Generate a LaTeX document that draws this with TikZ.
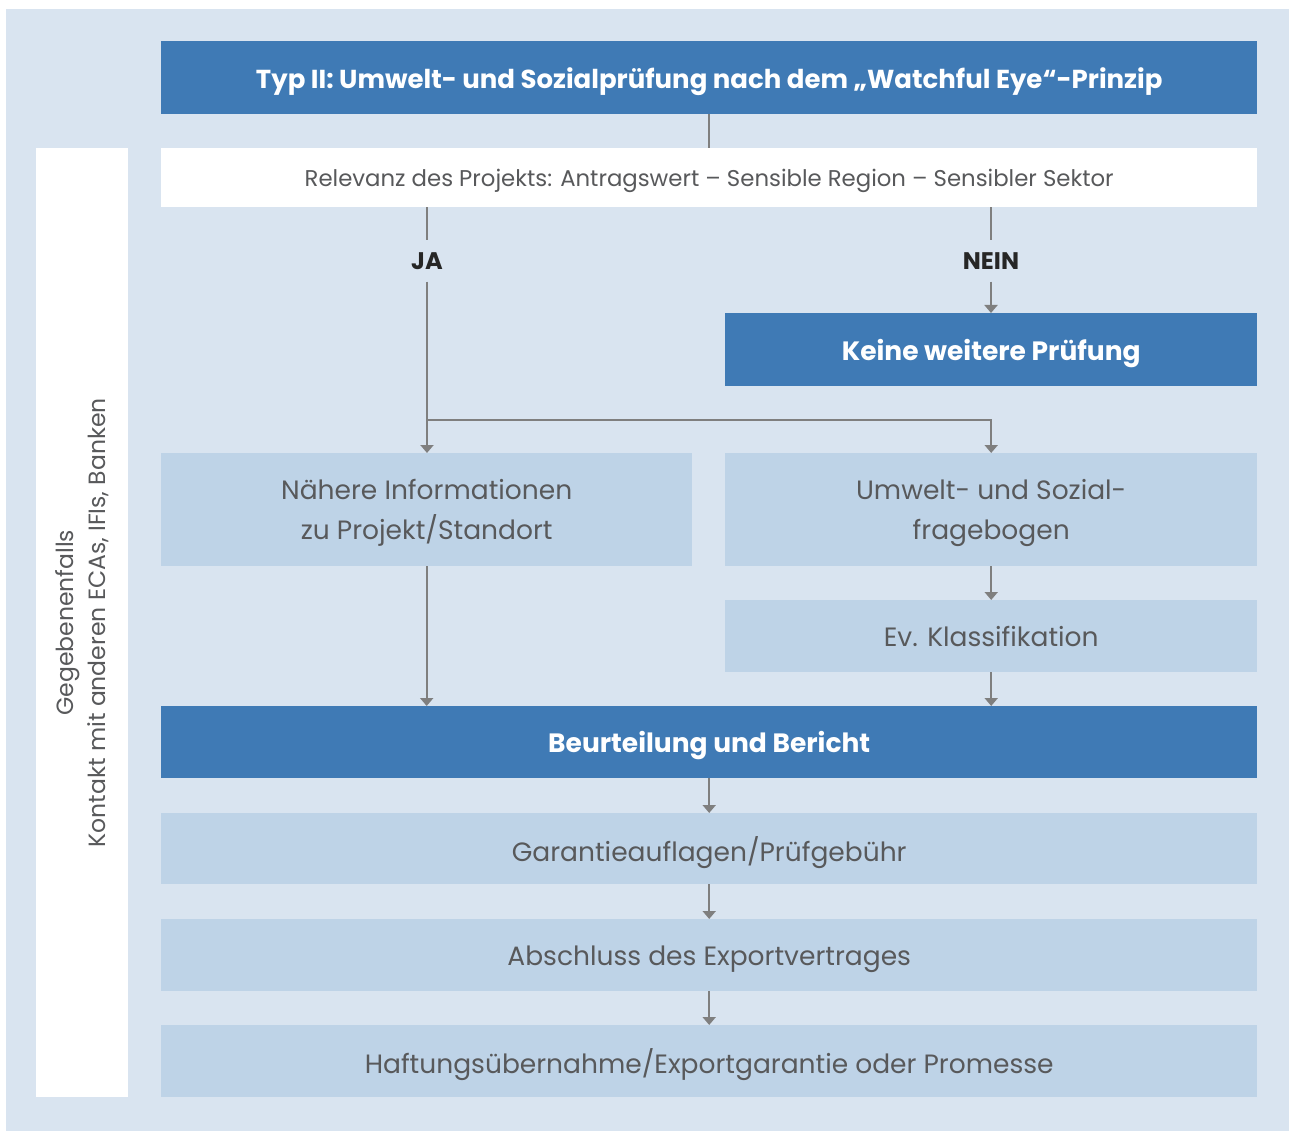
\documentclass[tikz,border=0pt]{standalone}
\usepackage{fontspec}
\setmainfont{Poppins}
\usetikzlibrary{arrows.meta,calc}
\definecolor{bgblue}{HTML}{D9E4F0}
\definecolor{darkblue}{HTML}{3F7AB5}
\definecolor{lightbox}{HTML}{BED3E7}
\definecolor{txtgray}{HTML}{58595B}
\definecolor{linegray}{HTML}{7F7F7F}
\begin{document}
\begin{tikzpicture}[x=1pt,y=-1pt,
  box/.style={anchor=north west, inner sep=0pt, align=center, text depth=0pt},
  darkbox/.style={box, fill=darkblue, text=white, font=\bfseries\fontsize{26.5}{32}\selectfont},
  lightbx/.style={box, fill=lightbox, text=txtgray, font=\fontsize{26.5}{40}\selectfont},
  whitebx/.style={box, fill=white, text=txtgray},
  conn/.style={draw=linegray, line width=2pt},
  arr/.style={conn, -{Triangle[width=13pt,length=8pt]}},
  lbl/.style={inner sep=0pt, minimum height=41pt, font=\bfseries\fontsize{24}{28}\selectfont, text=black!85}
]
\useasboundingbox (0,0) rectangle (1289,1131);
\fill[white] (0,0) rectangle (1289,1131);
\fill[bgblue] (6,9) rectangle (1289,1131);

% boxes
\node[darkbox, minimum width=1096pt, minimum height=73pt, font=\bfseries\fontsize{26}{32}\selectfont] (title) at (161,41)
  {Typ II: Umwelt- und Sozialprüfung nach dem „Watchful Eye“-Prinzip};
\node[whitebx, minimum width=1096pt, minimum height=59pt, font=\fontsize{22.8}{27}\selectfont] (rel) at (161,148)
  {Relevanz des Projekts: Antragswert – Sensible Region – Sensibler Sektor};
\node[whitebx, minimum width=92pt, minimum height=949pt] (side) at (36,148) {};
\node[text=txtgray, rotate=90, align=center, font=\fontsize{23.5}{32}\selectfont] (sidetxt) at (side.center)
  {Gegebenenfalls\\Kontakt mit anderen ECAs, IFIs, Banken};

\node[darkbox, minimum width=532pt, minimum height=73pt] (keine) at (725,313) {Keine weitere Prüfung};
\node[lightbx, minimum width=531pt, minimum height=113pt] (naeh) at (161,453) {Nähere Informationen\\zu Projekt/Standort};
\node[lightbx, minimum width=532pt, minimum height=113pt] (umf) at (725,453) {Umwelt- und Sozial-\\fragebogen};
\node[lightbx, minimum width=532pt, minimum height=72pt] (klass) at (725,600) {Ev. Klassifikation};
\node[darkbox, minimum width=1096pt, minimum height=72pt] (beur) at (161,706) {Beurteilung und Bericht};
\node[lightbx, minimum width=1096pt, minimum height=71pt] (gar) at (161,813) {Garantieauflagen/Prüfgebühr};
\node[lightbx, minimum width=1096pt, minimum height=72pt] (abs) at (161,919) {Abschluss des Exportvertrages};
\node[lightbx, minimum width=1096pt, minimum height=72pt] (haft) at (161,1025) {Haftungsübernahme/Exportgarantie oder Promesse};

% labels
\node[lbl] (ja) at (427,261) {JA};
\node[lbl] (nein) at (991,261) {NEIN};
\coordinate (br) at (427,420);

% connectors
\draw[conn] (title.south -| rel.north) -- (rel.north);
\draw[conn] (rel.south -| ja) -- (ja.north);
\draw[arr] (ja.south) -- (naeh.north -| ja);
\draw[arr] (br) -- (br -| umf.north) -- (umf.north);
\draw[conn] (rel.south -| nein) -- (nein.north);
\draw[arr] (nein.south) -- (keine.north -| nein);
\draw[arr] (umf.south) -- (klass.north);
\draw[arr] (klass.south) -- (beur.north -| klass);
\draw[arr] (naeh.south) -- (beur.north -| naeh);
\draw[arr] (beur.south) -- (gar.north);
\draw[arr] (gar.south) -- (abs.north);
\draw[arr] (abs.south) -- (haft.north);
\end{tikzpicture}
\end{document}
